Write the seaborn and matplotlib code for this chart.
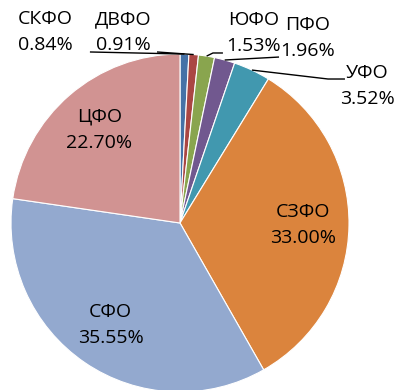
import numpy as np
import matplotlib
matplotlib.use("Agg")
import matplotlib.pyplot as plt
import seaborn as sns

# Federal districts and their shares, clockwise from the top
districts = ["СКФО", "ДВФО", "ЮФО", "ПФО", "УФО", "СЗФО", "СФО", "ЦФО"]
shares = [0.84, 0.91, 1.53, 1.96, 3.52, 33.00, 35.55, 22.70]
colors = ["#4572A7", "#AA4643", "#89A54E", "#71588F", "#4198AF",
          "#DB843D", "#93A9CF", "#D19392"]

sns.set_theme(style="white")
plt.rcParams["font.family"] = ["Open Sans", "DejaVu Sans"]

fig = plt.figure(figsize=(3.96, 3.90), dpi=100)
ax = fig.add_axes([0, 0, 1, 1])
palette = sns.color_palette(colors)

wedges, _ = ax.pie(shares, colors=palette, startangle=90, counterclock=False,
                   radius=1.0, center=(0, 0),
                   wedgeprops=dict(edgecolor="white", linewidth=0.8))

R = 169.0
ax.set_xlim(-180 / R, 216 / R)
ax.set_ylim((223 - 390) / R, 223 / R)
ax.set_aspect("auto")
ax.axis("off")

fs = 14
ls = 1.55
lbl = lambda i: f"{districts[i]}\n{shares[i]:.2f}%"

# Large slices: labels inside, along the wedge bisector
for i in (5, 6, 7):
    w = wedges[i]
    ang = np.deg2rad((w.theta1 + w.theta2) / 2)
    r = 0.73
    ax.text(r * np.cos(ang), r * np.sin(ang), lbl(i), ha="center", va="center",
            fontsize=fs, color="black", linespacing=ls)

# Small slices: labels outside with leader lines
outer = {
    0: dict(pos=(-0.799, 1.130), path=[(-0.533, 1.012)]),
    1: dict(pos=(-0.337, 1.130), path=[(-0.136, 1.012)]),
    2: dict(pos=(0.436, 1.124), path=[(0.195, 1.006), (0.254, 1.006)]),
    3: dict(pos=(0.757, 1.095), path=[(0.586, 0.982)]),
    4: dict(pos=(1.107, 0.811), path=[(0.876, 0.852), (0.976, 0.852)]),
}
for i, spec in outer.items():
    w = wedges[i]
    ang = np.deg2rad((w.theta1 + w.theta2) / 2)
    pts = [(np.cos(ang), np.sin(ang))] + spec["path"]
    xs, ys = zip(*pts)
    ax.plot(xs, ys, color="black", lw=1.0, solid_capstyle="butt", zorder=3)
    ax.text(*spec["pos"], lbl(i), ha="center", va="center", fontsize=fs,
            color="black", linespacing=ls, zorder=4)

fig.savefig("out.png", dpi=100, facecolor="white")
